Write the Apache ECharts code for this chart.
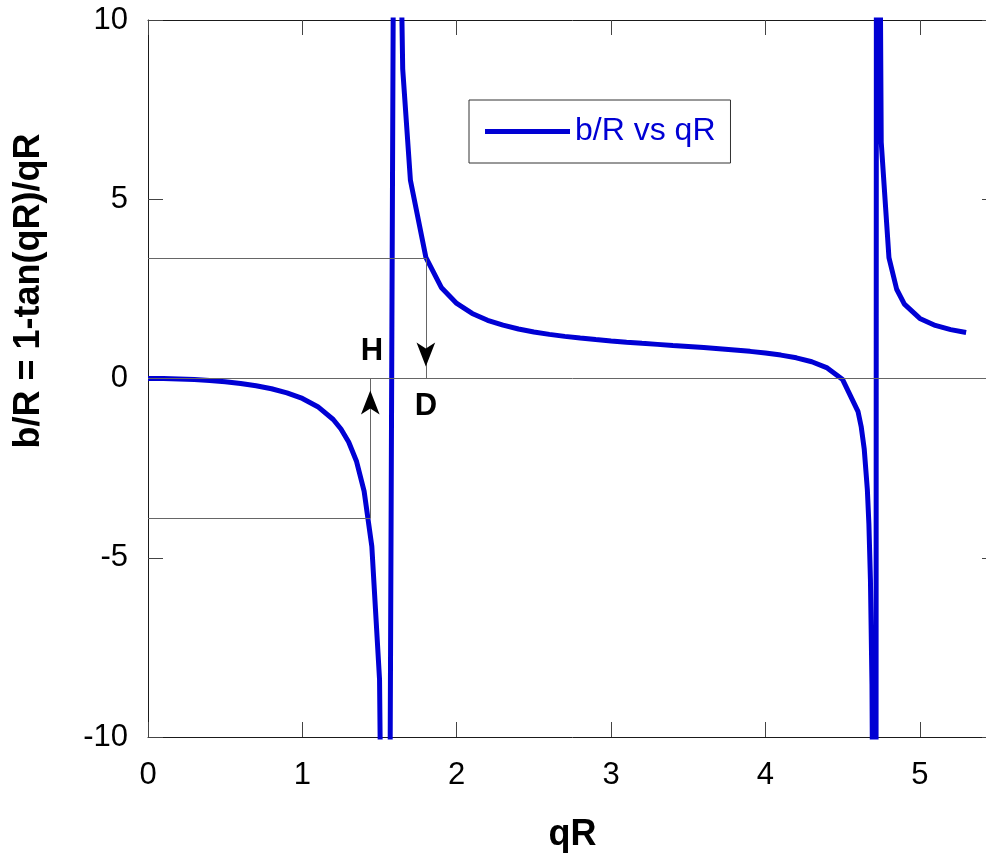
<!DOCTYPE html>
<html>
<head>
<meta charset="utf-8">
<script src="https://cdn.jsdelivr.net/npm/echarts@6/dist/echarts.min.js"></script>
<style>
html,body{margin:0;padding:0;background:#fff;overflow:hidden;width:986px;height:858px}
#c{width:1000px;height:858px}
</style>
</head>
<body>
<div id="c"></div>
<script>
// ---- data ----
const qR = [0, 0.1, 0.2, 0.3, 0.4, 0.5, 0.6, 0.7, 0.8, 0.9, 1.0, 1.1, 1.2, 1.25, 1.3, 1.35, 1.4, 1.45, 1.5, 1.55,
  1.6, 1.65, 1.7, 1.8, 1.9, 2.0, 2.1, 2.2, 2.3, 2.4, 2.5, 2.6, 2.7, 2.8, 2.9, 3.0, 3.1, 3.2, 3.3, 3.4, 3.5,
  3.6, 3.7, 3.8, 3.9, 4.0, 4.1, 4.2, 4.3, 4.4, 4.5, 4.6, 4.62, 4.64, 4.66, 4.67, 4.68, 4.69, 4.70, 4.71,
  4.72, 4.75, 4.8, 4.85, 4.9, 5.0, 5.1, 5.2, 5.3];
const bR = [0, -0.003, -0.014, -0.031, -0.057, -0.093, -0.140, -0.203, -0.287, -0.400, -0.557, -0.786, -1.144, -1.408, -1.771, -2.300, -3.141, -4.681, -8.401, -30.02,
  22.40, 8.637, 5.527, 3.381, 2.541, 2.093, 1.814, 1.624, 1.487, 1.382, 1.299, 1.231, 1.175, 1.127, 1.085, 1.048, 1.013, 0.982, 0.952, 0.922, 0.893,
  0.863, 0.831, 0.796, 0.757, 0.711, 0.653, 0.577, 0.468, 0.296, -0.031, -0.926, -1.336, -1.972, -3.092, -4.049, -5.595, -8.522, -16.17, -87.87,
  28.84, 6.595, 3.372, 2.489, 2.075, 1.676, 1.480, 1.363, 1.283];
const xTicks = [0, 1, 2, 3, 4, 5];
const yTicks = [-10, -5, 0, 5, 10];
const seriesName = 'b/R vs qR';
const xTitle = 'qR';
const yTitle = 'b/R = 1-tan(qR)/qR';
// annotation values (data units)
const hArrowX = 1.44, hLevel = -3.9;
const dArrowX = 1.8, dLevel = 3.35;
const hLabel = ['H', 1.45, 0.75];
const dLabel = ['D', 1.8, -0.78];

const FONT = 'Liberation Sans, Arial, Helvetica, sans-serif';
const BLUE = '#0000d4';
const GRAY = '#666666';

const curve = qR.map((x, i) => [x, bR[i]]);

const chart = echarts.init(document.getElementById('c'), null, {renderer: 'canvas'});

const baseX = {
  type: 'value', min: 0, max: 5.5, interval: 1,
  axisLine: {show: true, onZero: false, lineStyle: {color: '#1a1a1a', width: 1}},
  axisTick: {show: true, inside: true, length: 15, lineStyle: {color: '#444', width: 1}},
  splitLine: {show: false}
};
const baseY = {
  type: 'value', min: -10, max: 10, interval: 5,
  axisLine: {show: true, onZero: false, lineStyle: {color: '#1a1a1a', width: 1}},
  axisTick: {show: true, inside: true, length: 15, lineStyle: {color: '#444', width: 1}},
  splitLine: {show: false}
};

const labelStyle = {show: true, position: 'inside', color: '#000', fontSize: 31, fontWeight: 'bold', fontFamily: FONT};

chart.setOption({
  animation: false,
  backgroundColor: '#fff',
  grid: {left: 148, right: 3, top: 20, bottom: 120, containLabel: false},
  legend: {
    data: [{name: seriesName, icon: 'rect'}],
    left: 469, top: 100,
    orient: 'horizontal',
    backgroundColor: '#fff',
    borderColor: '#333', borderWidth: 1, borderRadius: 0,
    padding: [14, 15, 14, 16],
    itemWidth: 85, itemHeight: 5,
    itemStyle: {color: BLUE, borderWidth: 0},
    textStyle: {color: BLUE, fontSize: 32, fontFamily: FONT, lineHeight: 35}
  },
  xAxis: [
    Object.assign({}, baseX, {
      position: 'bottom',
      name: xTitle, nameLocation: 'middle', nameGap: 80,
      nameTextStyle: {fontSize: 36, fontWeight: 'bold', fontFamily: FONT, color: '#000'},
      axisLabel: {show: true, margin: 23, fontSize: 31, fontFamily: FONT, color: '#000',
        formatter: v => xTicks.includes(v) ? String(v) : ''}
    }),
    Object.assign({}, baseX, {position: 'top', axisLabel: {show: false}})
  ],
  yAxis: [
    Object.assign({}, baseY, {
      position: 'left',
      axisLabel: {show: true, margin: 20, fontSize: 31, fontFamily: FONT, color: '#000',
        formatter: v => yTicks.includes(v) ? String(v) : ''}
    }),
    Object.assign({}, baseY, {position: 'right', axisLabel: {show: false}})
  ],
  graphic: [{
    type: 'text', x: 29, y: 291, rotation: Math.PI / 2,
    style: {text: yTitle, fill: '#000', font: 'bold 36px ' + FONT, align: 'center', verticalAlign: 'middle'}
  }],
  series: [
    {
      name: 'annotations', type: 'line', data: [], z: 1, silent: true,
      xAxisIndex: 0, yAxisIndex: 0,
      markLine: {
        silent: true, symbol: 'none', animation: false,
        label: {show: false},
        lineStyle: {color: GRAY, width: 1, type: 'solid'},
        data: [
          [{coord: [0, 0]}, {coord: [5.5, 0]}],
          [{coord: [0, hLevel]}, {coord: [hArrowX, hLevel]}],
          [{coord: [hArrowX, hLevel]}, {coord: [hArrowX, 0]}],
          [{coord: [0, dLevel]}, {coord: [dArrowX, dLevel]}],
          [{coord: [dArrowX, dLevel]}, {coord: [dArrowX, 0]}]
        ]
      },
      markPoint: {
        silent: true, animation: false,
        label: labelStyle,
        data: [
          {coord: [hArrowX, 0], symbol: 'arrow', symbolSize: [14, 24], symbolRotate: 0,
           symbolOffset: [0, '50%'], itemStyle: {color: '#000'}, label: {show: false}},
          {coord: [dArrowX, 0], symbol: 'arrow', symbolSize: [14, 24], symbolRotate: 180,
           symbolOffset: [0, '-50%'], itemStyle: {color: '#000'}, label: {show: false}},
          {coord: [hLabel[1], hLabel[2]], symbol: 'circle', symbolSize: 1, itemStyle: {color: 'rgba(0,0,0,0)'},
           label: Object.assign({}, labelStyle, {formatter: hLabel[0]})},
          {coord: [dLabel[1], dLabel[2]], symbol: 'circle', symbolSize: 1, itemStyle: {color: 'rgba(0,0,0,0)'},
           label: Object.assign({}, labelStyle, {formatter: dLabel[0]})}
        ]
      }
    },
    {
      name: seriesName, type: 'line', data: curve, z: 3,
      xAxisIndex: 0, yAxisIndex: 0,
      symbol: 'none', showSymbol: false, smooth: false, clip: true,
      lineStyle: {color: BLUE, width: 5},
      itemStyle: {color: BLUE}
    }
  ]
});
</script>
</body>
</html>
